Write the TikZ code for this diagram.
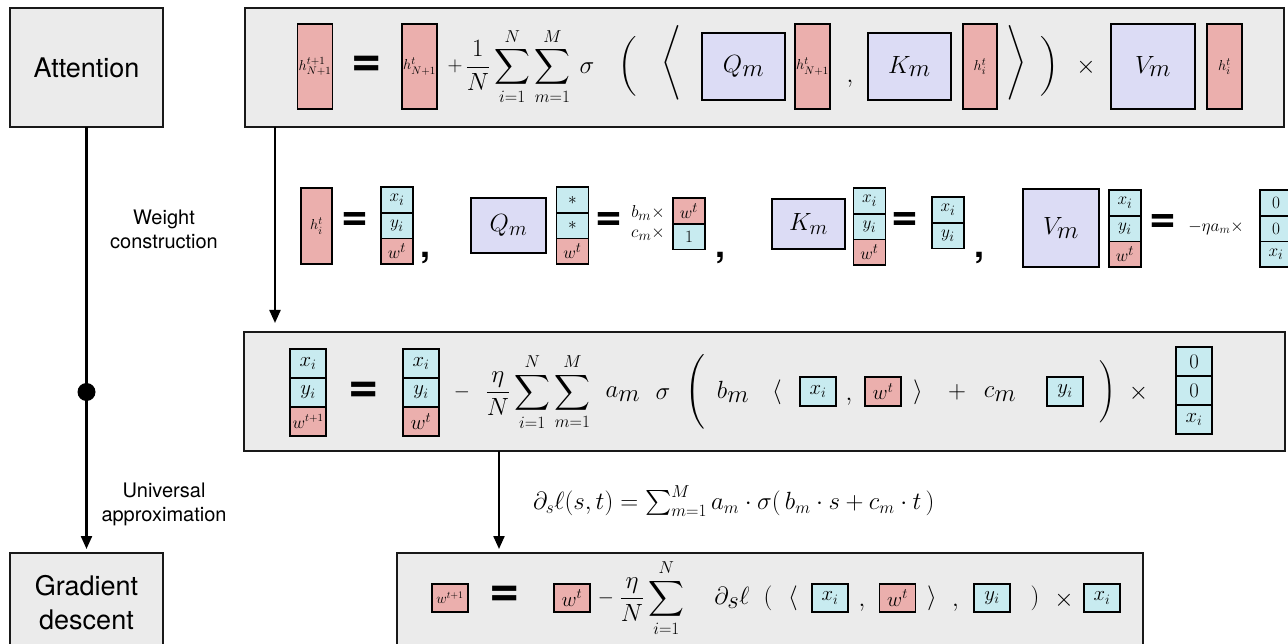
\documentclass[tikz,border=0pt]{standalone}
\usepackage{amsmath}
\usepackage{fontspec}
\setsansfont{TeX Gyre Heros}
\usetikzlibrary{arrows.meta,positioning}
\definecolor{PanelGray}{HTML}{EBEBEB}
\definecolor{HPink}{HTML}{EBAFAD}
\definecolor{XCyan}{HTML}{C8EBF0}
\definecolor{QLav}{HTML}{DCDCF5}
\newcommand{\fsz}[1]{\fontsize{#1}{#1}\selectfont}

\begin{document}
\begin{tikzpicture}[x=1pt,y=-1pt,
  panel/.style={draw=black!90,line width=2.4pt,fill=PanelGray,inner sep=0pt,outer sep=0pt},
  stage/.style={panel,font=\sffamily\fontsize{27}{34}\selectfont,align=center},
  hcell/.style={draw,line width=1.5pt,fill=HPink,inner sep=0pt,outer sep=0pt},
  ccell/.style={draw,line width=1.5pt,fill=XCyan,inner sep=0pt,outer sep=0pt},
  wmat/.style={draw,line width=1.5pt,fill=QLav,inner sep=0pt,outer sep=0pt},
  tall/.style={minimum width=35,minimum height=85,font=\fsz{15}},
  vc/.style={minimum width=32,minimum height=25.7,font=\fsz{19}},
  bc/.style={minimum width=36,minimum height=29,font=\fsz{21}},
  sym/.style={inner sep=0pt,outer sep=0pt},
  eqs/.style={sym,font=\sffamily\bfseries\fsz{52}},
  eqm/.style={sym,font=\sffamily\bfseries\fsz{46}},
  cma/.style={sym,font=\sffamily\bfseries\fsz{36}},
  note/.style={font=\sffamily\fontsize{20}{24}\selectfont,align=center,inner sep=0pt},
  flow/.style={line width=2.2pt,-{Triangle[length=13pt,width=11pt]}}]

\useasboundingbox (0,0) rectangle (1288,644);

% left column
\node[stage,minimum width=153,minimum height=119] (att) at (86.5,67.5) {Attention};
\node[stage,minimum width=153,minimum height=100] (gd) at (86.5,603) {Gradient\\descent};
\draw[flow,shorten >=4pt] (att.south) -- (gd.north);
\node[circle,fill,minimum size=18,inner sep=0pt] (mid) at (86.5,392) {};
\node[note] (wc) at (164,229) {Weight\\construction};
\node[note] (ua) at (164,504) {Universal\\approximation};

% panels
\node[panel,minimum width=1039,minimum height=119] (attn) at (764.5,67.5) {};
\node[panel,minimum width=1041,minimum height=119] (upd) at (764.5,391.5) {};
\node[panel,minimum width=746,minimum height=100] (gdf) at (770,603) {};
\draw[flow,shorten >=9pt] ([xshift=30pt]attn.south west) -- ([xshift=31pt]upd.north west);
\draw[flow,shorten >=4pt] ([xshift=255pt]upd.south west) -- ([xshift=102pt]gdf.north west);

% attention update
\node[hcell,tall] (h1) at (315,66.5) {$h^{t+1}_{N+1}$};
\node[eqs] (e1) at (367,66.5) {=};
\node[hcell,tall] (h2) at (419.5,66.5) {$h^{t}_{N+1}$};
\node[sym,font=\fsz{22}] (p1) at (455,66.5) {$+$};
\node[sym,font=\fsz{23}] (s1) at (518,66.5) {$\displaystyle\frac{1}{N}\sum_{i=1}^{N}\sum_{m=1}^{M}$};
\node[sym,font=\fsz{28}] (sg1) at (587,68) {$\sigma$};
\node[sym,font=\fsz{26}] (lp1) at (628,66.5) {$\bigg($};
\node[sym,font=\fsz{25}] (la1) at (672,62.5) {$\Bigg\langle$};
\node[wmat,minimum width=83,minimum height=67,font=\fsz{36}] (q1) at (743.5,66.5) {$Q_m$};
\node[hcell,tall] (h3) at (812.5,66.5) {$h^{t}_{N+1}$};
\node[cma,font=\fsz{26}] (c1) at (850,84) {$,$};
\node[wmat,minimum width=83,minimum height=67,font=\fsz{36}] (k1) at (909.5,66.5) {$K_m$};
\node[hcell,tall,minimum width=34] (h4) at (980,66.5) {$h^{t}_{i}$};
\node[sym,font=\fsz{25}] (ra1) at (1017,62.5) {$\Bigg\rangle$};
\node[sym,font=\fsz{26}] (rp1) at (1050,66.5) {$\bigg)$};
\node[sym,font=\fsz{40}] (x1) at (1086,67) {$\times$};
\node[wmat,minimum width=84,minimum height=85,font=\fsz{42}] (v1) at (1153,66.5) {$V_m$};
\node[hcell,tall] (h5) at (1224.5,66.5) {$h^{t}_{i}$};

% weight construction
\node[hcell,minimum width=31,minimum height=76,font=\fsz{15}] (h6) at (316.5,226) {$h^t_i$};
\node[eqm] (e2) at (354.5,222) {=};
\node[ccell,vc] (a1) at (397,200) {$x_i$};
\node[ccell,vc,below=0pt of a1] (a2) {$y_i$};
\node[hcell,vc,below=0pt of a2] (a3) {$w^t$};
\node[cma] (c2) at (425.5,258) {,};
\node[wmat,minimum width=75,minimum height=55,font=\fsz{32}] (q2) at (508.5,225.5) {$Q_m$};
\node[ccell,vc] (b1) at (572.5,200) {$\ast$};
\node[ccell,vc,below=0pt of b1] (b2) {$\ast$};
\node[hcell,vc,below=0pt of b2] (b3) {$w^t$};
\node[eqm] (e3) at (608.5,222) {=};
\node[sym,font=\fsz{19}] (bm) at (648,213) {$b_m\times$};
\node[sym,font=\fsz{19}] (cm) at (648,234) {$c_m\times$};
\node[hcell,vc] (d1) at (689,211) {$w^t$};
\node[ccell,vc,below=0pt of d1] (d2) {$1$};
\node[cma] (c3) at (720,258) {,};
\node[wmat,minimum width=73,minimum height=50,font=\fsz{32}] (k2) at (808.5,224) {$K_m$};
\node[ccell,vc] (f1) at (869.5,201) {$x_i$};
\node[ccell,vc,below=0pt of f1] (f2) {$y_i$};
\node[hcell,vc,below=0pt of f2] (f3) {$w^t$};
\node[eqm] (e4) at (905,222) {=};
\node[ccell,vc] (g1) at (948,210) {$x_i$};
\node[ccell,vc,below=0pt of g1] (g2) {$y_i$};
\node[cma] (c4) at (979.5,258) {,};
\node[wmat,minimum width=76,minimum height=78,font=\fsz{36}] (v2) at (1061,228) {$V_m$};
\node[ccell,vc] (j1) at (1125,203) {$x_i$};
\node[ccell,vc,below=0pt of j1] (j2) {$y_i$};
\node[hcell,vc,below=0pt of j2] (j3) {$w^t$};
\node[eqm] (e5) at (1163,224) {=};
\node[sym,font=\fsz{18}] (eta) at (1216,228) {$-\eta a_m\times$};
\node[ccell,vc] (o1) at (1276,203) {$0$};
\node[ccell,vc,below=0pt of o1] (o2) {$0$};
\node[ccell,vc,below=0pt of o2] (o3) {$x_i$};

% data update
\node[ccell,bc] (r1) at (308,363.5) {$x_i$};
\node[ccell,bc,below=0pt of r1] (r2) {$y_i$};
\node[hcell,bc,below=0pt of r2,font=\fsz{16}] (r3) {$w^{t+1}$};
\node[eqs] (e6) at (363.5,392) {=};
\node[ccell,bc] (u1) at (421,363.5) {$x_i$};
\node[ccell,bc,below=0pt of u1] (u2) {$y_i$};
\node[hcell,bc,below=0pt of u2] (u3) {$w^t$};
\node[sym,font=\fsz{22}] (m1) at (462,392) {$-$};
\node[sym,font=\fsz{25}] (s2) at (538,392) {$\displaystyle\frac{\eta}{N}\sum_{i=1}^{N}\sum_{m=1}^{M}$};
\node[sym,font=\fsz{36}] (am) at (623,394) {$a_m$};
\node[sym,font=\fsz{30}] (sg2) at (663,394) {$\sigma$};
\node[sym,font=\fsz{24}] (lp2) at (695,392) {$\Bigg($};
\node[sym,font=\fsz{36}] (bm2) at (733,392) {$b_m$};
\node[sym,font=\fsz{30}] (la2) at (777,392) {$\langle$};
\node[ccell,minimum width=36,minimum height=29,font=\fsz{20}] (x2) at (818,391.5) {$x_i$};
\node[sym,font=\fsz{28}] (c5) at (849,402) {$,$};
\node[hcell,minimum width=36,minimum height=29,font=\fsz{20}] (w2) at (883,391.5) {$w^t$};
\node[sym,font=\fsz{30}] (ra2) at (918,392) {$\rangle$};
\node[sym,font=\fsz{34}] (p2) at (957,392) {$+$};
\node[sym,font=\fsz{36}] (cm2) at (1000,394) {$c_m$};
\node[ccell,minimum width=36,minimum height=29,font=\fsz{20}] (y2) at (1065,391.5) {$y_i$};
\node[sym,font=\fsz{22}] (rp2) at (1108,392) {$\Bigg)$};
\node[sym,font=\fsz{38}] (x3) at (1138.5,393) {$\times$};
\node[ccell,bc] (z1) at (1194,361.5) {$0$};
\node[ccell,bc,below=0pt of z1] (z2) {$0$};
\node[ccell,bc,below=0pt of z2] (z3) {$x_i$};

% loss derivative
\node[sym,font=\fsz{23},anchor=west] (dl) at (533,501) {$\partial_s\ell(s,t) = \sum_{m=1}^{M} a_m\cdot\sigma(\,b_m\cdot s + c_m\cdot t\,)$};

% gradient step
\node[hcell,minimum width=36,minimum height=28,font=\fsz{14}] (w3) at (450,598) {$w^{t+1}$};
\node[eqs] (e7) at (505,596) {=};
\node[hcell,minimum width=36,minimum height=28,font=\fsz{20}] (w4) at (572,598) {$w^t$};
\node[sym,font=\fsz{20}] (m2) at (606,598) {$-$};
\node[sym,font=\fsz{24}] (s3) at (652,598) {$\displaystyle\frac{\eta}{N}\sum_{i=1}^{N}$};
\node[sym,font=\fsz{34}] (ds) at (732,598) {$\partial_s\ell$};
\node[sym,font=\fsz{30}] (lp3) at (768,598) {$($};
\node[sym,font=\fsz{30}] (la3) at (793,598) {$\langle$};
\node[ccell,minimum width=36,minimum height=28,font=\fsz{20}] (x4) at (830,598) {$x_i$};
\node[sym,font=\fsz{28}] (c6) at (862,608) {$,$};
\node[hcell,minimum width=36,minimum height=28,font=\fsz{20}] (w5) at (897.5,598) {$w^t$};
\node[sym,font=\fsz{30}] (ra3) at (932,598) {$\rangle$};
\node[sym,font=\fsz{28}] (c7) at (955.5,608) {$,$};
\node[ccell,minimum width=36,minimum height=28,font=\fsz{20}] (y4) at (992,598) {$y_i$};
\node[sym,font=\fsz{30}] (rp3) at (1035,598) {$)$};
\node[sym,font=\fsz{40}] (x5) at (1064,600) {$\times$};
\node[ccell,minimum width=36,minimum height=28,font=\fsz{20}] (x6) at (1102,598) {$x_i$};
\end{tikzpicture}
\end{document}
